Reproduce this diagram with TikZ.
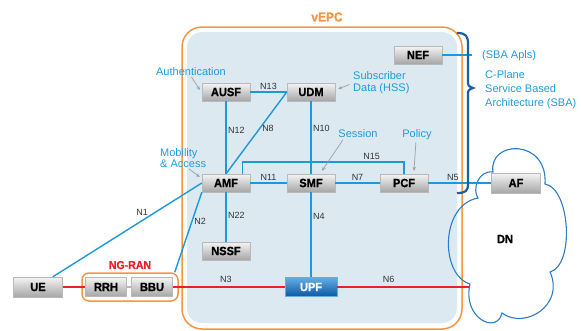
\documentclass[tikz,border=0pt]{standalone}
\usepackage{fontspec}
\setmainfont{Liberation Sans}
\newfontfamily\nffont{Liberation Sans}[BoldFeatures={FakeBold=0.8,FakeStretch=0.92}]
\usetikzlibrary{calc,arrows.meta}
\definecolor{linkblue}{HTML}{1E98D8}
\definecolor{noteblue}{HTML}{1E9BDB}
\definecolor{frameorange}{HTML}{F29640}
\definecolor{corefill}{HTML}{DCE9F1}
\definecolor{ranred}{HTML}{E8212B}
\definecolor{bracenavy}{HTML}{1B5EA8}
\definecolor{cloudblue}{HTML}{2A7DC8}
\definecolor{upftop}{HTML}{62AEE2}
\definecolor{upfbot}{HTML}{0C58A5}
\tikzset{
  nf/.style={top color=gray!8, bottom color=gray!70, draw=gray!55, line width=0.4pt,
    minimum width=48pt, minimum height=18pt, inner sep=0pt,
    font=\fontsize{12}{12}\selectfont\nffont\bfseries},
  upf/.style={top color=upftop, bottom color=upfbot, draw=upftop, text=white, minimum width=52pt, minimum height=19pt},
  narrow/.style={minimum width=41pt, minimum height=19pt},
  link/.style={linkblue, line width=1.4pt},
  ranlink/.style={ranred, line width=2.4pt},
  lbl/.style={text=black!80, inner sep=1.5pt, font=\fontsize{9}{10}\selectfont},
  note/.style={text=noteblue, inner sep=0pt, align=left, font=\fontsize{11}{12}\selectfont},
  pointer/.style={gray!75, line width=0.7pt, -{Stealth[length=4pt,width=3.5pt]}},
}
\begin{document}
\begin{tikzpicture}[x=1pt,y=-1pt]
  \useasboundingbox (0,0) rectangle (581,330);
  % vEPC frame
  \draw[frameorange, line width=1.5pt, rounded corners=20pt] (182,27) rectangle (462,329);
  \fill[corefill, rounded corners=15pt] (187,32) rectangle (457,323);
  \node[text=frameorange, font=\fontsize{13}{14}\selectfont\nffont\bfseries] (vepc) at (327,17) {vEPC};

  % data network
  \draw[cloudblue, line width=1.1pt] (493,172) .. controls (488,140) and (548,138) .. (545,184)
    .. controls (570,188) and (575,265) .. (550,272)
    .. controls (565,305) and (525,330) .. (502,313)
    .. controls (497,335) and (462,318) .. (470,284)
    .. controls (440,275) and (440,205) .. (478,198)
    .. controls (472,190) and (478,170) .. cycle;
  \node[font=\fontsize{12}{13}\selectfont\nffont\bfseries] (DN) at (505,239) {DN};

  \node[nf] (NEF)  at (418,55)  {NEF};
  \node[nf] (AUSF) at (226,92)  {AUSF};
  \node[nf] (UDM)  at (311,92)  {UDM};
  \node[nf] (AMF)  at (226,183) {AMF};
  \node[nf] (SMF)  at (311,183) {SMF};
  \node[nf] (PCF)  at (404,183) {PCF};
  \node[nf] (NSSF) at (226,251) {NSSF};
  \node[nf,upf] (UPF) at (311,287) {UPF};
  \node[nf,minimum width=49pt,minimum height=20pt] (AF) at (516,183) {AF};
  \node[nf,minimum width=49pt,minimum height=20pt] (UE) at (38,287) {UE};
  \node[nf,narrow] (RRH) at (106,287) {RRH};
  \node[nf,narrow] (BBU) at (152,287) {BBU};
  \draw[gray!55, line width=2pt] (RRH) -- (BBU);
  \node[draw=frameorange, line width=1.5pt, rounded corners=7pt, minimum width=96pt, minimum height=28pt] (RAN) at (130,287) {};
  \node[text=ranred, font=\fontsize{11.5}{12}\selectfont\nffont\bfseries] (ranlbl) at (130,265) {NG-RAN};

  \coordinate (n15turn) at (404,162);
  \coordinate (dnedge) at (469,287);
  \coordinate (sba) at (472,55);

  \draw[link] (AUSF) -- node[lbl,above] (n13) {N13} (UDM);
  \draw[link] (AUSF) -- node[lbl,right,pos=0.4] (n12) {N12} (AMF);
  \draw[link] (AMF.north) -- node[lbl,right,pos=0.56] (n8) {N8} (UDM.west);
  \draw[link] (UDM) -- node[lbl,right,pos=0.37] (n10) {N10} (SMF);
  \draw[link] (AMF) -- node[lbl,above] (n11) {N11} (SMF);
  \draw[link] (SMF) -- node[lbl,above] (n7) {N7} (PCF);
  \draw[link] ($(AMF.north)!0.67!(AMF.north east)$) |- node[lbl,above,pos=0.9] (n15) {N15} (n15turn) -- (PCF.north);
  \draw[link] (PCF) -- node[lbl,above,pos=0.39] (n5) {N5} (AF);
  \draw[link] (AMF) -- node[lbl,right,pos=0.46] (n22) {N22} (NSSF);
  \draw[link] (SMF) -- node[lbl,right,pos=0.28] (n4) {N4} (UPF);
  \draw[link] ($(UE.north)!0.6!(UE.north east)$) -- node[lbl,above=3pt,pos=0.6] (n1) {N1} (AMF.west);
  \draw[link] ($(RAN.north east)+(-4,0)$) -- node[lbl,right,pos=0.64] (n2) {N2} (AMF.south west);
  \draw[link] (NEF) -- (sba);

  \draw[ranlink] (UE) -- (RRH);
  \draw[ranlink] (BBU) -- node[lbl,above=2pt,pos=0.475] (n3) {N3} (UPF);
  \draw[ranlink] (UPF) -- node[lbl,above=2pt,pos=0.39] (n6) {N6} (dnedge);

  % SBA brace
  \draw[bracenavy, line width=2.2pt] (457,33) .. controls (466,33) and (468,36) .. (468,44) -- (468,80)
    .. controls (468,86) .. (473,88) .. controls (468,90) .. (468,96) -- (468,183)
    .. controls (468,191) and (466,193) .. (457,193);
  \node[note, anchor=west] (apis) at (482,56) {(SBA Apls)};
  \node[note, anchor=west, font=\fontsize{11}{14}\selectfont] (sbatext) at (485,90) {C-Plane\\Service Based\\Architecture (SBA)};

  % call-outs
  \node[note] (auth) at (191,72) {Authentication};
  \node[note, anchor=west, font=\fontsize{11}{10.7}\selectfont] (mob) at (160,158) {Mobility\\\& Access};
  \node[note, anchor=west, font=\fontsize{11}{12}\selectfont] (subs) at (353,83) {Subscriber\\Data (HSS)};
  \node[note] (sess) at (358,134) {Session};
  \node[note] (pol) at (417,135) {Policy};
  \draw[pointer, shorten <=1pt] (auth.south) -- ([xshift=-2pt,yshift=2pt]AUSF.west);
  \draw[pointer, shorten <=2pt] ([xshift=4pt]mob.south) -- ([xshift=-2pt,yshift=6pt]AMF.west);
  \draw[pointer, shorten <=4pt] (subs.west) -- ([xshift=3pt,yshift=3pt]UDM.east);
  \draw[pointer, shorten <=2pt] ([xshift=-14pt]sess.south) -- ([xshift=11pt,yshift=3pt]SMF.north);
  \draw[pointer, shorten <=2pt] ([xshift=-1pt]pol.south) -- ([xshift=10pt,yshift=3pt]PCF.north);
\end{tikzpicture}
\end{document}
